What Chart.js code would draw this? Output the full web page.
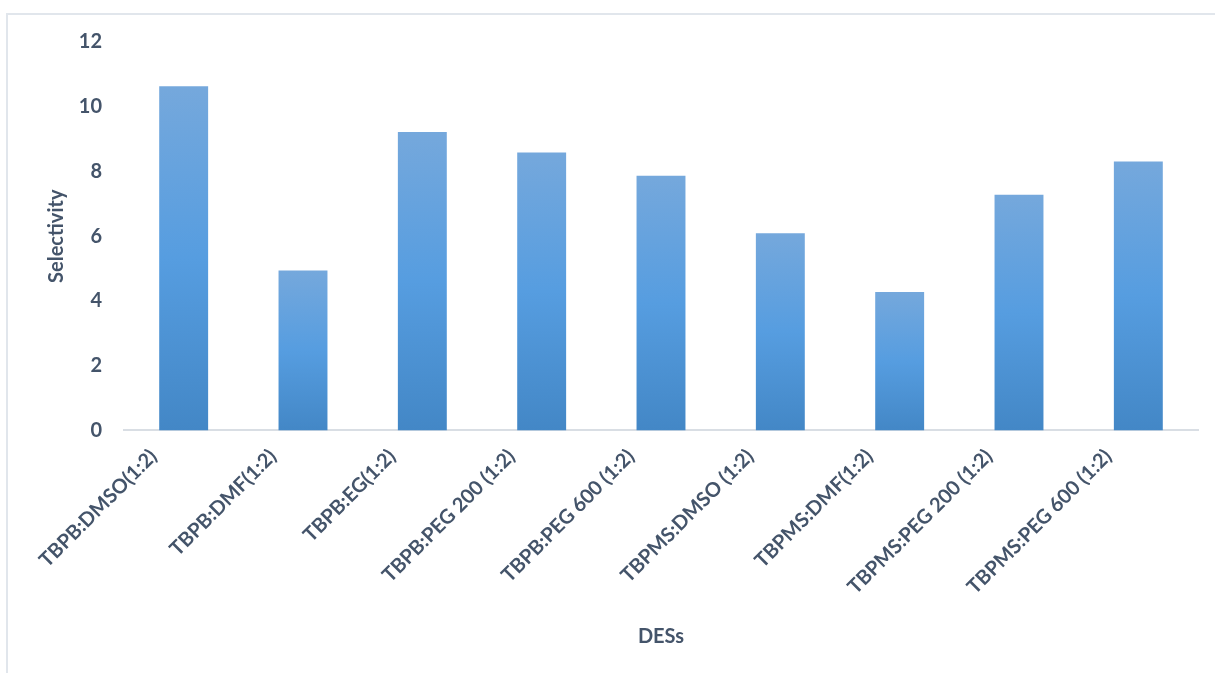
<!DOCTYPE html>
<html>
<head>
<meta charset="utf-8">
<script src="https://cdn.jsdelivr.net/npm/chart.js@4.4.1/dist/chart.umd.min.js"></script>
<style>
  html, body { margin: 0; padding: 0; background: #fff; overflow: hidden; }
  #frame {
    position: absolute; left: 6px; top: 13px;
    width: 1207px; height: 658px;
    border-left: 2px solid #e1e6ec; border-top: 2px solid #e1e6ec;
  }
</style>
</head>
<body>
<div id="frame"><canvas id="selectivityChart"></canvas></div>
<script>
// categories and values
var desLabels = [
  "TBPB:DMSO(1:2)", "TBPB:DMF(1:2)", "TBPB:EG(1:2)",
  "TBPB:PEG 200 (1:2)", "TBPB:PEG 600 (1:2)", "TBPMS:DMSO (1:2)",
  "TBPMS:DMF(1:2)", "TBPMS:PEG 200 (1:2)", "TBPMS:PEG 600 (1:2)"
];
var selectivity = [10.63, 4.94, 9.22, 8.59, 7.87, 6.09, 4.28, 7.28, 8.31];
var yTicks = [0, 2, 4, 6, 8, 10, 12];

document.addEventListener("DOMContentLoaded", function () {
  var textColor = "#44546a";
  var font = { family: "Lato", size: 20, weight: "bold" };

  // Excel style gradient, one per bar
  function barFill(c) {
    var chart = c.chart;
    var y = chart.scales.y;
    if (!y || c.raw == null) return "#5b9bd5";
    var top = y.getPixelForValue(c.raw);
    var bot = y.getPixelForValue(0);
    if (!isFinite(top) || !isFinite(bot) || top === bot) return "#5b9bd5";
    var g = chart.ctx.createLinearGradient(0, top, 0, bot);
    g.addColorStop(0, "#75a8dc");
    g.addColorStop(0.5, "#569de0");
    g.addColorStop(1, "#4387c6");
    return g;
  }

  var ctx = document.getElementById("selectivityChart").getContext("2d");
  var chart = new Chart(ctx, {
    type: "bar",
    data: {
      labels: desLabels,
      datasets: [
        {
          label: "Selectivity",
          data: selectivity,
          backgroundColor: barFill,
          borderWidth: 0,
          categoryPercentage: 1,
          barPercentage: 0.41,
        },
      ],
    },
    options: {
      responsive: true,
      maintainAspectRatio: false,
      animation: false,
      layout: { padding: { top: 27, right: 17, bottom: 24, left: 37 } },
      plugins: {
        legend: { display: false },
        tooltip: { enabled: false },
      },
      scales: {
        x: {
          afterFit: function (scale) {
            // rotated labels may hang over the left edge, like Excel
            scale.paddingLeft = 0;
            scale.paddingRight = 0;
          },
          grid: { display: false, drawTicks: false },
          border: { display: true, color: "#d9dee4", width: 2 },
          ticks: {
            color: textColor,
            font: font,
            minRotation: 45,
            maxRotation: 45,
            padding: 14,
            labelOffset: -30,
          },
          title: {
            display: true,
            text: "DESs",
            color: textColor,
            font: font,
            padding: { top: 12, bottom: 0 },
          },
        },
        y: {
          min: 0,
          max: 12,
          afterBuildTicks: function (axis) {
            axis.ticks = yTicks.map(function (v) { return { value: v }; });
          },
          afterFit: function (scale) {
            scale.width = 79;
            scale.paddingTop = 0;
          },
          grid: { display: false, drawTicks: false },
          border: { display: false },
          ticks: {
            color: textColor,
            font: font,
            padding: 22,
          },
          title: {
            display: true,
            text: "Selectivity",
            color: textColor,
            font: font,
            padding: { top: 0, bottom: 10 },
          },
        },
      },
    },
  });
  // second pass so the gradients see laid-out scales
  chart.update();
});
</script>
</body>
</html>
